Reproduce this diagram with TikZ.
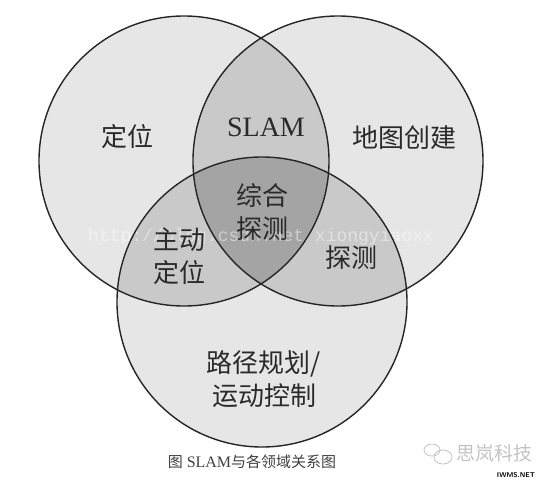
\documentclass[tikz,border=0pt]{standalone}
\usepackage{fontspec}
\setmainfont{Liberation Serif}
\newfontfamily\cjk{Noto Sans CJK SC}
\newfontfamily\urlfont{Liberation Mono}
\definecolor{outerc}{HTML}{E6E6E6}
\definecolor{pairc}{HTML}{C9C9C9}
\definecolor{triplec}{HTML}{A4A4A4}
\definecolor{textc}{HTML}{2A2A2A}
\definecolor{wmc}{HTML}{C4C4C4}
\tikzset{
  ring/.style={draw=black!85, line width=1.4pt},
  lbl/.style={text=textc, align=center, font=\cjk\fontsize{26}{33}\selectfont, inner sep=0pt},
  latinlbl/.style={text=textc, inner sep=0pt, font=\fontsize{28}{30}\selectfont},
  caption/.style={text=black!75, inner sep=0pt, font=\fontsize{16}{18}\selectfont},
  wm/.style={text=wmc, inner sep=0pt, font=\cjk\fontsize{19}{20}\selectfont}
}
\begin{document}
\begin{tikzpicture}[x=1pt,y=-1pt]
\useasboundingbox (0,0) rectangle (550,480);
\fill[white] (0,0) rectangle (550,480);
\coordinate (L) at (184,161);
\coordinate (R) at (338,161);
\coordinate (B) at (262,302);
% base fills
\fill[outerc] (L) circle[radius=145pt];
\fill[outerc] (R) circle[radius=145pt];
\fill[outerc] (B) circle[radius=145pt];
% pairwise
\begin{scope}
  \clip (L) circle[radius=145pt];
  \fill[pairc] (R) circle[radius=145pt];
  \fill[pairc] (B) circle[radius=145pt];
\end{scope}
\begin{scope}
  \clip (R) circle[radius=145pt];
  \fill[pairc] (B) circle[radius=145pt];
\end{scope}
% triple
\begin{scope}
  \clip (L) circle[radius=145pt];
  \clip (R) circle[radius=145pt];
  \fill[triplec] (B) circle[radius=145pt];
\end{scope}
% faint url watermark
\node[inner sep=0pt, text=white, opacity=0.45, font=\urlfont\fontsize{18}{20}\selectfont] (url) at (261,237) {http://blog.csdn.net/xiongyiaoxx};
% outlines
\draw[ring] (L) circle[radius=145pt];
\draw[ring] (R) circle[radius=145pt];
\draw[ring] (B) circle[radius=145pt];
% labels
\node[lbl] (loc) at (127,137) {定位};
\node[latinlbl] (slam) at (266,127) {SLAM};
\node[lbl] (map) at (404,138) {地图创建};
\node[lbl] (comp) at (262,212) {综合\\探测};
\node[lbl] (active) at (179,256) {主动\\定位};
\node[lbl] (expl) at (351,258) {探测};
\node[lbl] (path) at (264,379) {路径规划/\\运动控制};
% caption
\node[caption] (cap) at (252,462) {{\cjk\fontsize{15}{18}\selectfont 图} SLAM{\cjk\fontsize{15}{18}\selectfont 与各领域关系图}};
% corner watermark
\coordinate (wc) at (438,454);
\draw[wmc, line width=0.8pt] (432,450) ellipse[x radius=8pt, y radius=6pt];
\draw[wmc, line width=0.8pt] (443,457) ellipse[x radius=9pt, y radius=7pt];
\node[wm] (brand) at (494,453) {思岚科技};
\node[inner sep=0pt, font=\sffamily\bfseries\fontsize{7}{8}\selectfont] (site) at (516,475) {IWMS.NET};
\end{tikzpicture}
\end{document}
